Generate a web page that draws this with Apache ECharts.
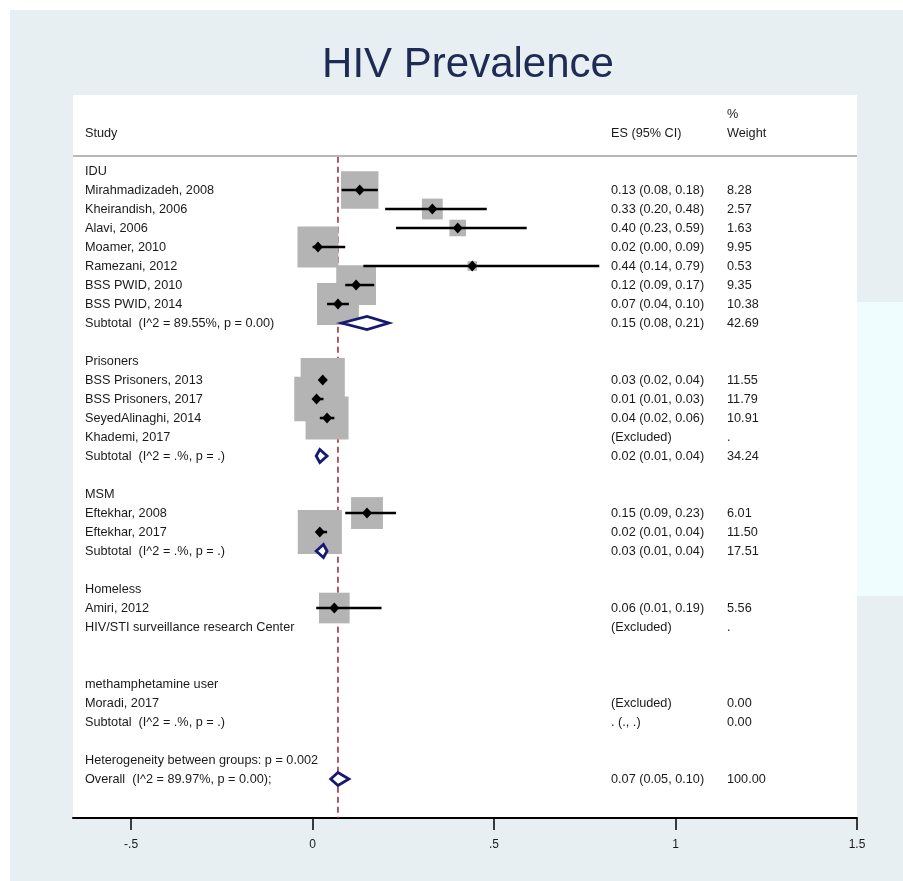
<!DOCTYPE html>
<html>
<head>
<meta charset="utf-8">
<title>HIV Prevalence</title>
<script src="https://cdn.jsdelivr.net/npm/echarts@6/dist/echarts.min.js"></script>
<style>
  html, body { margin: 0; padding: 0; background: #fff; }
  #page { position: relative; width: 903px; height: 881px; overflow: hidden; }
  #backdrop { position: absolute; left: 10px; top: 10px; right: 0; bottom: 0; background: #e8eff2; }
  #strip { position: absolute; left: 857px; top: 302px; width: 46px; height: 294px; background: #effdfe; }
  #chart { position: absolute; left: 0; top: 0; width: 903px; height: 881px; }
</style>
</head>
<body>
<div id="page">
  <div id="backdrop"></div>
  <div id="strip"></div>
  <div id="chart"></div>
</div>
<script>
// one entry per table row, top to bottom
const rowLabels = [
  'IDU',
  'Mirahmadizadeh, 2008',
  'Kheirandish, 2006',
  'Alavi, 2006',
  'Moamer, 2010',
  'Ramezani, 2012',
  'BSS PWID, 2010',
  'BSS PWID, 2014',
  'Subtotal  (I^2 = 89.55%, p = 0.00)',
  '',
  'Prisoners',
  'BSS Prisoners, 2013',
  'BSS Prisoners, 2017',
  'SeyedAlinaghi, 2014',
  'Khademi, 2017',
  'Subtotal  (I^2 = .%, p = .)',
  '',
  'MSM',
  'Eftekhar, 2008',
  'Eftekhar, 2017',
  'Subtotal  (I^2 = .%, p = .)',
  '',
  'Homeless',
  'Amiri, 2012',
  'HIV/STI surveillance research Center',
  '',
  '',
  'methamphetamine user',
  'Moradi, 2017',
  'Subtotal  (I^2 = .%, p = .)',
  '',
  'Heterogeneity between groups: p = 0.002',
  'Overall  (I^2 = 89.97%, p = 0.00);'
]

const esLabels = [
  '', '0.13 (0.08, 0.18)', '0.33 (0.20, 0.48)', '0.40 (0.23, 0.59)', '0.02 (0.00, 0.09)',
  '0.44 (0.14, 0.79)', '0.12 (0.09, 0.17)', '0.07 (0.04, 0.10)', '0.15 (0.08, 0.21)', '',
  '', '0.03 (0.02, 0.04)', '0.01 (0.01, 0.03)', '0.04 (0.02, 0.06)', '(Excluded)',
  '0.02 (0.01, 0.04)', '', '', '0.15 (0.09, 0.23)', '0.02 (0.01, 0.04)',
  '0.03 (0.01, 0.04)', '', '', '0.06 (0.01, 0.19)', '(Excluded)',
  '', '', '', '(Excluded)', '. (., .)', '', '', '0.07 (0.05, 0.10)'
]

const weightLabels = [
  '', '8.28', '2.57', '1.63', '9.95', '0.53', '9.35', '10.38', '42.69', '',
  '', '11.55', '11.79', '10.91', '.', '34.24', '', '', '6.01', '11.50',
  '17.51', '', '', '5.56', '.', '', '', '', '0.00', '0.00', '', '', '100.00'
]

const headerTop = ['', '', '%']
const headerBottom = ['Study', 'ES (95% CI)', 'Weight']

// individual studies
const studyRows   = [1, 2, 3, 4, 5, 6, 7, 11, 12, 13, 18, 19, 23]
const studyEs     = [0.13, 0.33, 0.40, 0.015, 0.44, 0.12, 0.07, 0.028, 0.011, 0.04, 0.15, 0.02, 0.06]
const studyLo     = [0.08, 0.20, 0.23, 0.00, 0.14, 0.09, 0.04, 0.02, 0.01, 0.02, 0.09, 0.01, 0.01]
const studyHi     = [0.18, 0.48, 0.59, 0.09, 0.79, 0.17, 0.10, 0.04, 0.03, 0.06, 0.23, 0.04, 0.19]
const studyWeight = [8.28, 2.57, 1.63, 9.95, 0.53, 9.35, 10.38, 11.55, 11.79, 10.91, 6.01, 11.50, 5.56]

// pooled estimates (subtotals + overall)
const pooledRows = [8, 15, 20, 32]
const pooledEs   = [0.15, 0.02, 0.03, 0.07]
const pooledLo   = [0.08, 0.01, 0.01, 0.05]
const pooledHi   = [0.21, 0.04, 0.04, 0.10]

const tickValues = [-0.5, 0, 0.5, 1, 1.5]
const tickLabels = ['-.5', '0', '.5', '1', '1.5']

const overallEs = pooledEs[pooledEs.length - 1]

const FONT = 'Liberation Sans, Arial, sans-serif'
const TEXT_COLOR = '#1a1a1a'
const colX = [85, 611, 727]

const chart = echarts.init(document.getElementById('chart'))

const textEl = (x, y, text) => ({
  type: 'text',
  x: x,
  y: y,
  style: {
    text: text,
    fill: TEXT_COLOR,
    fontSize: 12.7,
    fontFamily: FONT,
    verticalAlign: 'middle',
    align: 'left'
  }
})

const option = {
  backgroundColor: 'transparent',
  animation: false,
  title: {
    text: 'HIV Prevalence',
    left: 463,
    textAlign: 'center',
    top: 39,
    textStyle: {
      color: '#1f2a55',
      fontSize: 42,
      fontWeight: 'normal',
      fontFamily: FONT
    }
  },
  grid: {
    left: 73,
    right: 46,
    top: 95,
    bottom: 63,
    show: true,
    backgroundColor: '#fff',
    borderWidth: 0
  },
  xAxis: {
    type: 'value',
    min: -0.66,
    max: 1.5,
    splitLine: { show: false },
    axisLine: { onZero: false, lineStyle: { color: '#000', width: 2 } },
    axisTick: {
      show: true,
      customValues: tickValues,
      length: 12,
      lineStyle: { color: '#000', width: 1.5 }
    },
    axisLabel: {
      customValues: tickValues,
      margin: 21,
      color: TEXT_COLOR,
      fontSize: 12,
      fontFamily: FONT,
      formatter: (v) => tickLabels[tickValues.indexOf(v)]
    }
  },
  yAxis: {
    type: 'value',
    inverse: true,
    min: -4,
    max: 34.05,
    show: false
  },
  series: [
    {
      // reference line at the overall estimate
      type: 'custom',
      z: 1,
      silent: true,
      data: [[overallEs, -0.75, 34.05]],
      encode: { x: 0, y: [1, 2] },
      renderItem: (params, api) => {
        const p1 = api.coord([api.value(0), api.value(1)])
        const p2 = api.coord([api.value(0), api.value(2)])
        return {
          type: 'line',
          shape: { x1: p1[0], y1: p1[1], x2: p2[0], y2: p2[1] },
          style: { stroke: '#a0222f', lineWidth: 1.5, lineDash: [6, 4] }
        }
      }
    },
    {
      // weight squares
      type: 'scatter',
      z: 2,
      silent: true,
      symbol: 'rect',
      symbolSize: (v) => 13 * Math.sqrt(v[2]),
      itemStyle: { color: '#b4b4b4', opacity: 1 },
      data: studyRows.map((r, i) => [studyEs[i], r, studyWeight[i]])
    },
    {
      // confidence intervals
      type: 'custom',
      z: 3,
      silent: true,
      data: studyRows.map((r, i) => [studyLo[i], studyHi[i], r]),
      encode: { x: [0, 1], y: 2 },
      renderItem: (params, api) => {
        const a = api.coord([api.value(0), api.value(2)])
        const b = api.coord([api.value(1), api.value(2)])
        return {
          type: 'line',
          shape: { x1: a[0], y1: a[1], x2: b[0], y2: b[1] },
          style: { stroke: '#000', lineWidth: 2.5 }
        }
      }
    },
    {
      // point estimates
      type: 'scatter',
      z: 4,
      silent: true,
      symbol: 'diamond',
      symbolSize: [10, 11],
      itemStyle: { color: '#000', opacity: 1 },
      data: studyRows.map((r, i) => [studyEs[i], r])
    },
    {
      // pooled diamonds
      type: 'custom',
      z: 4,
      silent: true,
      data: pooledRows.map((r, i) => [pooledLo[i], pooledEs[i], pooledHi[i], r]),
      encode: { x: [0, 1, 2], y: 3 },
      renderItem: (params, api) => {
        const row = api.value(3)
        const lo = api.coord([api.value(0), row])
        const mid = api.coord([api.value(1), row])
        const hi = api.coord([api.value(2), row])
        const h = 6.5
        return {
          type: 'polygon',
          shape: { points: [[lo[0], lo[1]], [mid[0], mid[1] - h], [hi[0], hi[1]], [mid[0], mid[1] + h]] },
          style: { fill: '#fff', stroke: '#141a72', lineWidth: 2.8 }
        }
      }
    },
    {
      // table rows
      type: 'custom',
      z: 5,
      silent: true,
      data: rowLabels.map((_, i) => [0, i]),
      encode: { x: 0, y: 1 },
      renderItem: (params, api) => {
        const i = params.dataIndex
        const y = api.coord([0, api.value(1)])[1]
        const texts = [rowLabels[i], esLabels[i], weightLabels[i]]
        const children = []
        texts.forEach((t, c) => { if (t) children.push(textEl(colX[c], y, t)) })
        return { type: 'group', children: children }
      }
    },
    {
      // header + separator
      type: 'custom',
      z: 5,
      silent: true,
      data: [[0, -3], [0, -2], [0, -0.79]],
      encode: { x: 0, y: 1 },
      renderItem: (params, api) => {
        const y = api.coord([0, api.value(1)])[1]
        const sys = params.coordSys
        if (params.dataIndex === 2) {
          return {
            type: 'line',
            shape: { x1: sys.x, y1: y, x2: sys.x + sys.width, y2: y },
            style: { stroke: '#a0a0a0', lineWidth: 1.5 }
          }
        }
        const texts = params.dataIndex === 0 ? headerTop : headerBottom
        const children = []
        texts.forEach((t, c) => { if (t) children.push(textEl(colX[c], y, t)) })
        return { type: 'group', children: children }
      }
    }
  ]
}

chart.setOption(option)
</script>
</body>
</html>
